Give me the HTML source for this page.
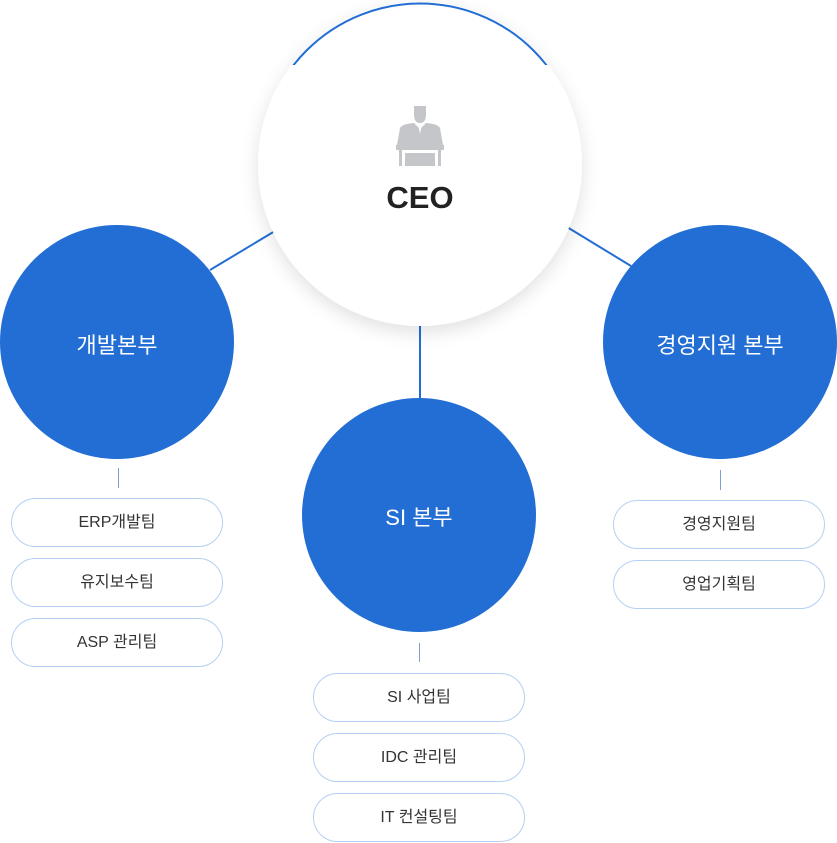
<!DOCTYPE html>
<html><head><meta charset="utf-8"><style>
body{margin:0;width:837px;height:843px;background:#fff;position:relative;overflow:hidden;font-family:"Liberation Sans","Noto Sans CJK KR",sans-serif}
.pill{position:absolute;width:210px;height:47px;border:1px solid #b5d0f2;border-radius:25px;box-sizing:content-box;text-align:center;line-height:47px;font-size:16px;color:#333;background:#fff}
.t{position:absolute;color:#fff;font-size:22px;text-align:center;width:240px}
</style></head><body>
<svg width="837" height="843" style="position:absolute;left:0;top:0">
<defs>
<filter id="sh" x="-30%" y="-30%" width="160%" height="160%"><feDropShadow dx="0" dy="6" stdDeviation="9" flood-color="#000" flood-opacity="0.12"/></filter>
<clipPath id="cp"><rect x="0" y="0" width="837" height="65"/></clipPath>
</defs>
<g stroke="#226ed4" stroke-width="2">
<line x1="210" y1="270" x2="275" y2="231"/>
<line x1="567" y1="227" x2="631" y2="266"/>
<line x1="420" y1="320" x2="420" y2="400"/>
</g>
<g stroke="#7d9fd0" stroke-width="1">
<line x1="118.5" y1="468" x2="118.5" y2="488"/>
<line x1="720.5" y1="470" x2="720.5" y2="490"/>
<line x1="419.5" y1="643" x2="419.5" y2="662"/>
</g>
<circle cx="420" cy="164" r="162" fill="#fff" filter="url(#sh)"/>
<circle cx="420" cy="164" r="160.5" fill="none" stroke="#226ed4" stroke-width="2" clip-path="url(#cp)"/>
<circle cx="117" cy="342" r="117" fill="#226ed4"/>
<circle cx="720" cy="342" r="117" fill="#226ed4"/>
<circle cx="419" cy="515" r="117" fill="#226ed4"/>
<g fill="#c4c6ca">
<path d="M414 106 h12 v8 q0 9 -6 9 q-6 0 -6 -9z"/>
<path d="M400 128 q2 -4 14 -5 l6 6 l6 -6 q12 1 14 5 l3 17 h-46z"/>
<rect x="396" y="145" width="48" height="5"/>
<rect x="399" y="150" width="3" height="16"/>
<rect x="438" y="150" width="3" height="16"/>
<rect x="405" y="153" width="30" height="13"/>
</g>
<path d="M418 124 l2 10 l2 -10z" fill="#fff"/>
</svg>
<div style="position:absolute;left:320px;top:180px;width:200px;text-align:center;font-size:31px;font-weight:bold;color:#222">CEO</div>
<div class="t" style="left:-3px;top:328px">개발본부</div>
<div class="t" style="left:600px;top:328px">경영지원 본부</div>
<div class="t" style="left:299px;top:500px">SI 본부</div>
<div class="pill" style="left:11px;top:498px">ERP개발팀</div>
<div class="pill" style="left:11px;top:558px">유지보수팀</div>
<div class="pill" style="left:11px;top:618px">ASP 관리팀</div>
<div class="pill" style="left:613px;top:500px">경영지원팀</div>
<div class="pill" style="left:613px;top:560px">영업기획팀</div>
<div class="pill" style="left:313px;top:673px">SI 사업팀</div>
<div class="pill" style="left:313px;top:733px">IDC 관리팀</div>
<div class="pill" style="left:313px;top:793px">IT 컨설팅팀</div>
</body></html>
